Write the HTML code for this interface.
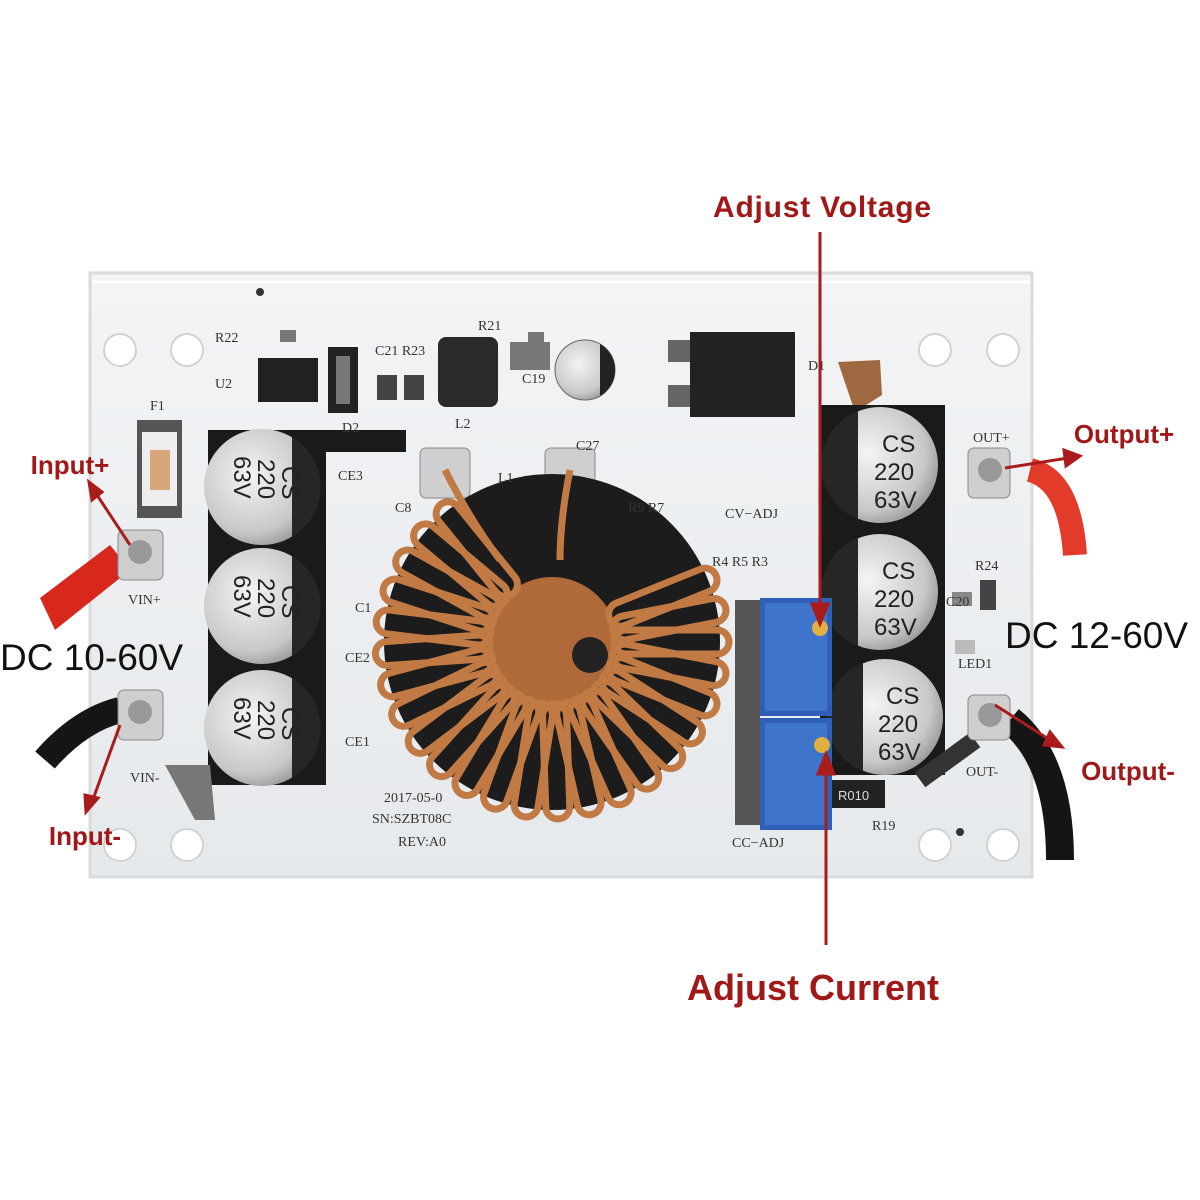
<!DOCTYPE html>
<html><head><meta charset="utf-8"><style>
html,body{margin:0;padding:0;background:#fff;width:1200px;height:1200px;overflow:hidden}
svg{display:block}
.lbl{font-family:"Liberation Sans",sans-serif;font-weight:bold;fill:#a01818}
.dc{font-family:"Liberation Sans",sans-serif;fill:#111}
.silk{font-family:"Liberation Serif",serif;fill:#333;font-size:14px}
.cap{font-family:"Liberation Sans",sans-serif;fill:#222;font-size:24px}
</style></head><body>
<svg width="1200" height="1200" viewBox="0 0 1200 1200" xmlns="http://www.w3.org/2000/svg">
<defs>
<radialGradient id="capg" cx="40%" cy="40%" r="70%"><stop offset="0" stop-color="#f4f4f4"/><stop offset="0.7" stop-color="#c8c8c8"/><stop offset="1" stop-color="#8a8a8a"/></radialGradient>
<linearGradient id="board" x1="0" y1="0" x2="0" y2="1"><stop offset="0" stop-color="#f2f4f6"/><stop offset="1" stop-color="#e6e9ec"/></linearGradient>
</defs>
<rect x="90" y="273" width="942" height="604" fill="url(#board)" stroke="#d8dbde" stroke-width="3"/>
<line x1="92" y1="282" x2="1030" y2="282" stroke="#fff" stroke-width="3"/>
<g fill="#fff" stroke="#d0d3d6" stroke-width="2">
<circle cx="120" cy="350" r="16"/><circle cx="187" cy="350" r="16"/>
<circle cx="935" cy="350" r="16"/><circle cx="1003" cy="350" r="16"/>
<circle cx="120" cy="845" r="16"/><circle cx="187" cy="845" r="16"/>
<circle cx="935" cy="845" r="16"/><circle cx="1003" cy="845" r="16"/>
</g>
<circle cx="260" cy="292" r="4" fill="#333"/><circle cx="960" cy="832" r="4" fill="#333"/>
<rect x="258" y="358" width="60" height="44" fill="#222"/>
<rect x="328" y="347" width="30" height="66" fill="#222"/><rect x="336" y="356" width="14" height="48" fill="#777"/>
<rect x="377" y="375" width="20" height="25" fill="#444"/><rect x="404" y="375" width="20" height="25" fill="#444"/>
<rect x="438" y="337" width="60" height="70" rx="8" fill="#2a2a2a"/>
<rect x="510" y="342" width="40" height="28" fill="#777"/>
<circle cx="585" cy="370" r="30" fill="url(#capg)" stroke="#666"/>
<path d="M600 344 A30 30 0 0 1 600 396 Z" fill="#222"/>
<rect x="668" y="340" width="30" height="22" fill="#666"/><rect x="668" y="385" width="30" height="22" fill="#666"/>
<rect x="690" y="332" width="105" height="85" fill="#222"/>
<rect x="280" y="330" width="16" height="12" fill="#777"/><rect x="528" y="332" width="16" height="12" fill="#777"/>
<path d="M838 362 L880 360 L882 395 L855 412 Z" fill="#a06840"/>
<rect x="137" y="420" width="45" height="98" fill="#555"/><rect x="142" y="432" width="35" height="74" fill="#eee"/>
<rect x="150" y="450" width="20" height="40" fill="#d8a67a"/>
<rect x="208" y="430" width="118" height="355" fill="#1a1a1a"/>
<rect x="326" y="430" width="80" height="22" fill="#1a1a1a"/>
<g>
<circle cx="262" cy="487" r="58" fill="url(#capg)"/><path d="M292 437 A58 58 0 0 1 292 537 Z" fill="#262626"/>
<circle cx="262" cy="606" r="58" fill="url(#capg)"/><path d="M292 556 A58 58 0 0 1 292 656 Z" fill="#262626"/>
<circle cx="262" cy="728" r="58" fill="url(#capg)"/><path d="M292 678 A58 58 0 0 1 292 778 Z" fill="#262626"/>
<text class="cap" transform="translate(234 456) rotate(90)">63V</text>
<text class="cap" transform="translate(258 459) rotate(90)">220</text>
<text class="cap" transform="translate(282 466) rotate(90)">CS</text>
<text class="cap" transform="translate(234 575) rotate(90)">63V</text>
<text class="cap" transform="translate(258 578) rotate(90)">220</text>
<text class="cap" transform="translate(282 585) rotate(90)">CS</text>
<text class="cap" transform="translate(234 697) rotate(90)">63V</text>
<text class="cap" transform="translate(258 700) rotate(90)">220</text>
<text class="cap" transform="translate(282 707) rotate(90)">CS</text>
</g>
<rect x="820" y="405" width="125" height="370" fill="#1a1a1a"/>
<g>
<circle cx="880" cy="465" r="58" fill="url(#capg)"/><path d="M858 411 A58 58 0 0 0 858 519 Z" fill="#262626"/>
<circle cx="880" cy="592" r="58" fill="url(#capg)"/><path d="M858 538 A58 58 0 0 0 858 646 Z" fill="#262626"/>
<circle cx="885" cy="717" r="58" fill="url(#capg)"/><path d="M863 663 A58 58 0 0 0 863 771 Z" fill="#262626"/>
<text class="cap" x="882" y="452">CS</text><text class="cap" x="874" y="480">220</text><text class="cap" x="874" y="508">63V</text>
<text class="cap" x="882" y="579">CS</text><text class="cap" x="874" y="607">220</text><text class="cap" x="874" y="635">63V</text>
<text class="cap" x="886" y="704">CS</text><text class="cap" x="878" y="732">220</text><text class="cap" x="878" y="760">63V</text>
</g>
<rect x="830" y="780" width="55" height="28" fill="#222"/><text x="838" y="800" font-family="Liberation Sans" font-size="13" fill="#ddd">R010</text>
<rect x="980" y="580" width="16" height="30" fill="#444"/><rect x="952" y="592" width="20" height="14" fill="#888"/><rect x="955" y="640" width="20" height="14" fill="#bbb"/>
<path d="M40 598 L110 545 L130 570 L55 630 Z" fill="#d8281e"/>
<rect x="118" y="530" width="45" height="50" rx="6" fill="#cfcfcf" stroke="#888"/><circle cx="140" cy="552" r="12" fill="#999"/>
<path d="M45 760 Q80 720 120 710" stroke="#151515" stroke-width="26" fill="none"/>
<rect x="118" y="690" width="45" height="50" rx="6" fill="#cfcfcf" stroke="#888"/><circle cx="140" cy="712" r="12" fill="#999"/>
<path d="M165 765 L210 765 L215 820 L195 820 Z" fill="#777"/>
<path d="M1030 470 Q1070 480 1075 555" stroke="#e33b2a" stroke-width="24" fill="none"/>
<rect x="968" y="448" width="42" height="50" rx="6" fill="#cfcfcf" stroke="#888"/><circle cx="990" cy="470" r="12" fill="#999"/>
<path d="M1010 720 Q1060 760 1060 860" stroke="#151515" stroke-width="28" fill="none"/>
<path d="M920 780 L975 740" stroke="#333" stroke-width="18"/>
<rect x="968" y="695" width="42" height="45" rx="6" fill="#cfcfcf" stroke="#888"/><circle cx="990" cy="715" r="12" fill="#999"/>
<rect x="420" y="448" width="50" height="50" rx="6" fill="#cfcfcf" stroke="#888"/>
<rect x="545" y="448" width="50" height="50" rx="6" fill="#cfcfcf" stroke="#888"/>
<circle cx="552" cy="642" r="168" fill="#1c1c1c"/>
<circle cx="552" cy="642" r="65" fill="#b06a3a"/>
<circle cx="590" cy="655" r="18" fill="#222"/>
<g stroke="#c27a44" stroke-width="7" fill="none">
<g transform="rotate(0 552 642)"><rect x="614" y="630" width="115" height="24" rx="12"/></g>
<g transform="rotate(11 552 642)"><rect x="614" y="630" width="115" height="24" rx="12"/></g>
<g transform="rotate(22 552 642)"><rect x="614" y="630" width="115" height="24" rx="12"/></g>
<g transform="rotate(33 552 642)"><rect x="614" y="630" width="115" height="24" rx="12"/></g>
<g transform="rotate(44 552 642)"><rect x="614" y="630" width="115" height="24" rx="12"/></g>
<g transform="rotate(55 552 642)"><rect x="614" y="630" width="115" height="24" rx="12"/></g>
<g transform="rotate(66 552 642)"><rect x="614" y="630" width="115" height="24" rx="12"/></g>
<g transform="rotate(77 552 642)"><rect x="614" y="630" width="115" height="24" rx="12"/></g>
<g transform="rotate(88 552 642)"><rect x="614" y="630" width="115" height="24" rx="12"/></g>
<g transform="rotate(99 552 642)"><rect x="614" y="630" width="115" height="24" rx="12"/></g>
<g transform="rotate(110 552 642)"><rect x="614" y="630" width="115" height="24" rx="12"/></g>
<g transform="rotate(121 552 642)"><rect x="614" y="630" width="115" height="24" rx="12"/></g>
<g transform="rotate(132 552 642)"><rect x="614" y="630" width="115" height="24" rx="12"/></g>
<g transform="rotate(143 552 642)"><rect x="614" y="630" width="115" height="24" rx="12"/></g>
<g transform="rotate(154 552 642)"><rect x="614" y="630" width="115" height="24" rx="12"/></g>
<g transform="rotate(165 552 642)"><rect x="614" y="630" width="115" height="24" rx="12"/></g>
<g transform="rotate(176 552 642)"><rect x="614" y="630" width="115" height="24" rx="12"/></g>
<g transform="rotate(187 552 642)"><rect x="614" y="630" width="115" height="24" rx="12"/></g>
<g transform="rotate(198 552 642)"><rect x="614" y="630" width="115" height="24" rx="12"/></g>
<g transform="rotate(209 552 642)"><rect x="614" y="630" width="115" height="24" rx="12"/></g>
<g transform="rotate(220 552 642)"><rect x="614" y="630" width="115" height="24" rx="12"/></g>
<g transform="rotate(231 552 642)"><rect x="614" y="630" width="115" height="24" rx="12"/></g>
<g transform="rotate(-11 552 642)"><rect x="614" y="630" width="115" height="24" rx="12"/></g>
<g transform="rotate(-22 552 642)"><rect x="614" y="630" width="115" height="24" rx="12"/></g>
<path d="M445 470 Q470 520 500 560"/><path d="M570 470 Q560 520 560 560"/>
</g>
<rect x="735" y="600" width="25" height="125" fill="#555"/><rect x="735" y="725" width="25" height="100" fill="#555"/>
<rect x="760" y="598" width="72" height="118" fill="#2f5fb8"/><rect x="765" y="603" width="62" height="108" fill="#3f74cc"/>
<rect x="760" y="718" width="72" height="112" fill="#2f5fb8"/><rect x="765" y="723" width="62" height="102" fill="#3f74cc"/>
<circle cx="820" cy="628" r="8" fill="#e0b040"/><circle cx="822" cy="745" r="8" fill="#e0b040"/>
<text class="silk" x="215" y="342">R22</text><text class="silk" x="215" y="388">U2</text>
<text class="silk" x="375" y="355">C21 R23</text><text class="silk" x="478" y="330">R21</text>
<text class="silk" x="455" y="428">L2</text><text class="silk" x="522" y="383">C19</text>
<text class="silk" x="342" y="432">D2</text><text class="silk" x="150" y="410">F1</text>
<text class="silk" x="808" y="370">D1</text><text class="silk" x="498" y="482">L1</text>
<text class="silk" x="576" y="450">C27</text><text class="silk" x="338" y="480">CE3</text>
<text class="silk" x="395" y="512">C8</text><text class="silk" x="355" y="612">C1</text>
<text class="silk" x="345" y="662">CE2</text><text class="silk" x="345" y="746">CE1</text>
<text class="silk" x="628" y="512">R9  R7</text><text class="silk" x="712" y="566">R4 R5 R3</text>
<text class="silk" x="128" y="604">VIN+</text><text class="silk" x="130" y="782">VIN-</text>
<text class="silk" x="973" y="442">OUT+</text><text class="silk" x="966" y="776">OUT-</text>
<text class="silk" x="975" y="570">R24</text><text class="silk" x="946" y="606">C20</text><text class="silk" x="958" y="668">LED1</text>
<text class="silk" x="872" y="830">R19</text>
<text class="silk" x="725" y="518" font-size="18">CV−ADJ</text>
<text class="silk" x="732" y="847" font-size="18">CC−ADJ</text>
<text class="silk" x="384" y="802">2017-05-0</text><text class="silk" x="372" y="823">SN:SZBT08C</text><text class="silk" x="398" y="846">REV:A0</text>
<g stroke="#a81c1c" stroke-width="3" fill="#a81c1c">
<line x1="820" y1="232" x2="820" y2="610"/><path d="M812 604 L820 624 L828 604Z"/>
<line x1="826" y1="945" x2="826" y2="768"/><path d="M818 774 L826 754 L834 774Z"/>
<line x1="95" y1="492" x2="130" y2="545"/><path d="M89 482 L92 500 L102 492Z"/>
<line x1="120" y1="725" x2="92" y2="802"/><path d="M86 812 L85 795 L98 798Z"/>
<line x1="1005" y1="468" x2="1068" y2="458"/><path d="M1080 456 L1064 450 L1066 466Z"/>
<line x1="995" y1="705" x2="1050" y2="740"/><path d="M1062 747 L1050 732 L1044 745Z"/>
</g>
<text class="lbl" x="822" y="217" font-size="30" text-anchor="middle" textLength="218">Adjust Voltage</text>
<text class="lbl" x="813" y="1000" font-size="36" text-anchor="middle">Adjust Current</text>
<text class="lbl" x="70" y="474" font-size="26" text-anchor="middle">Input+</text>
<text class="lbl" x="85" y="845" font-size="26" text-anchor="middle">Input-</text>
<text class="lbl" x="1124" y="443" font-size="26" text-anchor="middle">Output+</text>
<text class="lbl" x="1128" y="780" font-size="26" text-anchor="middle">Output-</text>
<text class="dc" x="0" y="670" font-size="37">DC 10-60V</text>
<text class="dc" x="1005" y="648" font-size="37">DC 12-60V</text>
</svg>
</body></html>
